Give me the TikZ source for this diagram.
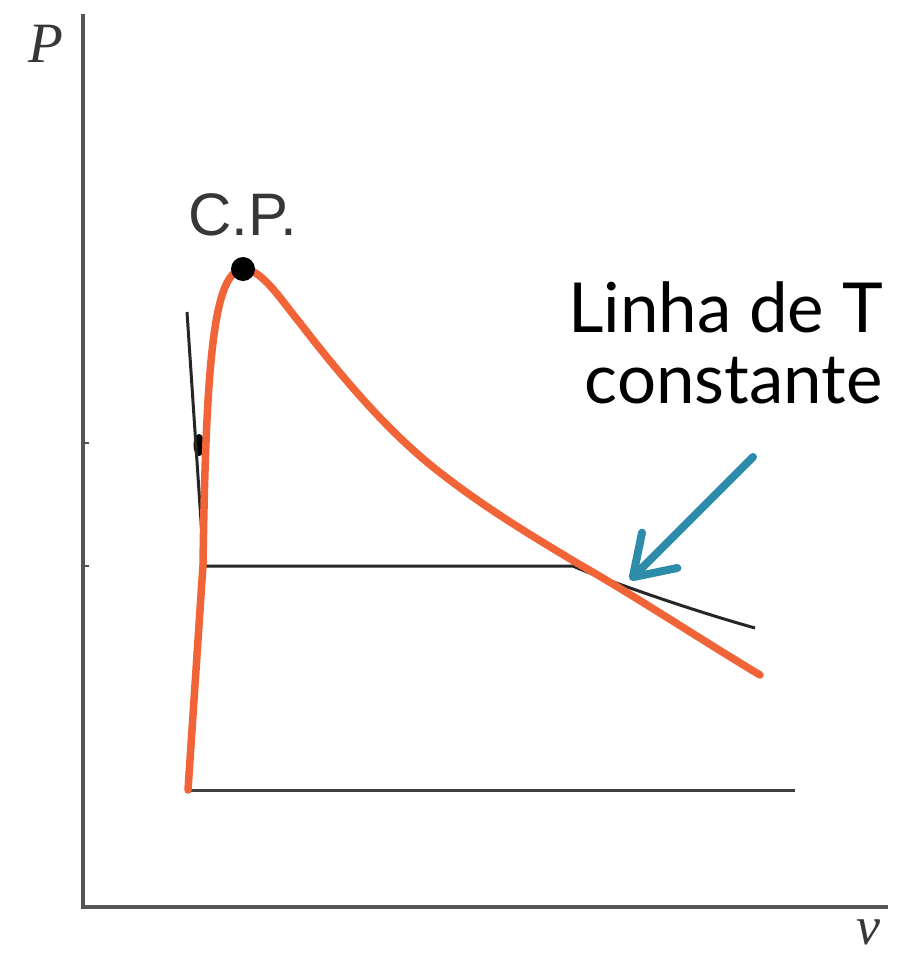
\documentclass[tikz,border=0pt]{standalone}
\usepackage{fontspec}
\setmainfont{Liberation Serif}
\newfontfamily\cpfont{Liberation Sans}
\newfontfamily\lblfont{Lato}
\usetikzlibrary{arrows.meta}
\definecolor{axisgray}{RGB}{85,85,85}
\definecolor{curveorange}{RGB}{240,100,55}
\definecolor{arrowblue}{RGB}{45,140,170}
\definecolor{textgray}{RGB}{55,55,55}
\tikzset{
  axisline/.style={draw=axisgray, line width=3.5pt},
  isoline/.style={draw=black!85, line width=3pt, line join=round},
  domeline/.style={draw=curveorange, line width=7.5pt, line cap=round, line join=round},
  arrowline/.style={draw=arrowblue, line width=8pt, line cap=round, -{Straight Barb[length=38pt,width=50pt,line cap=round,round]}},
  bigtext/.style={font=\lblfont\fontsize{69}{72}\selectfont, inner sep=0pt},
}
\begin{document}
\begin{tikzpicture}[x=1pt,y=-1pt]
\useasboundingbox (0,0) rectangle (919,954);
% axes
\coordinate (top) at (83,14);
\coordinate (origin) at (83,907);
\coordinate (right) at (888,907);
\draw[axisline] (top) -- (origin) -- (right);
\coordinate (t1) at (83,443);
\coordinate (t2) at (83,566);
\draw[axisgray, line width=2.5pt] (t1) -- ++(6,0);
\draw[axisgray, line width=2.5pt] (t2) -- ++(6,0);
\node[anchor=base, inner sep=0pt, text=textgray, font=\itshape\fontsize{57}{60}\selectfont] (plabel) at (46,62) {P};
\node[anchor=base, inner sep=0pt, text=textgray, font=\itshape\fontsize{54}{60}\selectfont] (vlabel) at (868,944) {v};
% bottom line
\coordinate (b1) at (188,790);
\coordinate (b2) at (795,790);
\draw[draw=black!75, line width=3pt] (b1) -- (b2);
% isotherm
\coordinate (i0) at (187,312);
\coordinate (i1) at (204,566);
\coordinate (i2) at (573,566);
\coordinate (i3) at (755,628);
\fill[black] (199,445) ellipse (5.5 and 11);
\draw[isoline] (i0) -- (i1) -- (i2) .. controls (592,575) and (680,607) .. (i3);
% dome
\coordinate (d0) at (188,790);
\coordinate (d1) at (203,565);
\coordinate (cpt) at (243,269);
\coordinate (k1) at (300,323);
\coordinate (k2) at (433,467);
\coordinate (k3) at (577,563);
\coordinate (k4) at (760,675);
\draw[domeline] (d0) -- (d1) .. controls (206,350) and (215,272) .. (cpt)
  .. controls (262,269) and (281,300) .. (k1)
  .. controls (344.3,380.6) and (388.7,431.5) .. (k2)
  .. controls (481,505.4) and (529,534.2) .. (k3)
  .. controls (638,597.8) and (699,638.4) .. (k4);
% critical point
\fill[black] (cpt) circle (12);
\node[anchor=base, inner sep=0pt, text=textgray, font=\cpfont\fontsize{60}{64}\selectfont] (cp) at (243,235) {C.P.};
% label
\node[bigtext, anchor=base east] (l1) at (883,332) {Linha de T};
\node[bigtext, anchor=base east] (l2) at (883,403) {constante};
\coordinate (as) at (753,457);
\coordinate (at) at (630,580);
\draw[arrowline] (as) -- (at);
\end{tikzpicture}
\end{document}
